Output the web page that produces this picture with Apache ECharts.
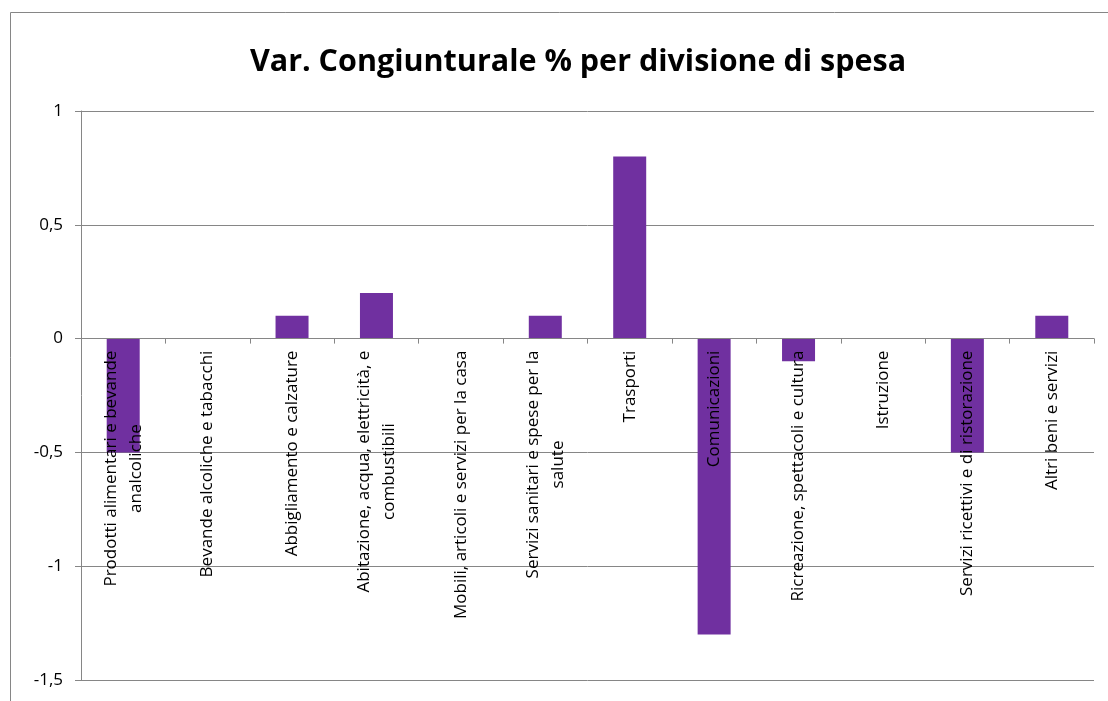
<!DOCTYPE html>
<html>
<head>
<meta charset="utf-8">
<script src="https://cdn.jsdelivr.net/npm/echarts@6/dist/echarts.min.js"></script>
<style>
  html, body { margin: 0; padding: 0; background: #fff; }
  #chart { width: 1108px; height: 701px; }
</style>
</head>
<body>
<div id="chart"></div>
<script>
// categorie di spesa (a capo dove il grafico originale va a capo)
const categories = [
  "Prodotti alimentari e bevande\nanalcoliche",
  "Bevande alcoliche e tabacchi",
  "Abbigliamento e calzature",
  "Abitazione, acqua, elettricità, e\ncombustibili",
  "Mobili, articoli e servizi per la casa",
  "Servizi sanitari e spese per la\nsalute",
  "Trasporti",
  "Comunicazioni",
  "Ricreazione, spettacoli e cultura",
  "Istruzione",
  "Servizi ricettivi e di ristorazione",
  "Altri beni e servizi",
];
// variazione congiunturale %
const values = [-0.5, 0, 0.1, 0.2, 0, 0.1, 0.8, -1.3, -0.1, 0, -0.5, 0.1];
// asse y
const yMin = -1.5;
const yMax = 1;
const yStep = 0.5;

(() => {
  configChart();
})();

function configChart() {
  const chart = echarts.init(document.getElementById("chart"));
  const font = "'Open Sans', sans-serif";
  const option = {
    animation: false,
    textStyle: { fontFamily: font },
    title: {
      text: "Var. Congiunturale % per divisione di spesa",
      left: 573,
      top: 42,
      textAlign: "center",
      textStyle: {
        fontFamily: font,
        fontSize: 30.5,
        fontWeight: "bold",
        color: "#000",
      },
    },
    graphic: [
      {
        type: "rect",
        shape: { x: 10.5, y: 12.5, width: 1110, height: 700 },
        style: { fill: "none", stroke: "#868686", lineWidth: 1 },
        silent: true,
      },
    ],
    grid: {
      left: 81,
      right: 14,
      top: 111,
      bottom: 21,
      outerBoundsMode: "none",
    },
    xAxis: {
      type: "category",
      data: categories,
      z: 3,
      offset: 0,
      axisLine: { onZero: false, lineStyle: { color: "#868686" } },
      axisTick: { show: true, length: 5, lineStyle: { color: "#868686" } },
      axisLabel: {
        rotate: 90,
        interval: 0,
        margin: 12,
        color: "#000",
        fontFamily: font,
        fontSize: 17,
        lineHeight: 25,
        formatter: (v) =>
          v
            .split("\n")
            .map((line) => "{c|" + line + "}")
            .join("\n"),
        rich: {
          c: {
            align: "center",
            color: "#000",
            fontFamily: font,
            fontSize: 17,
            lineHeight: 25,
          },
        },
      },
    },
    yAxis: {
      type: "value",
      min: yMin,
      max: yMax,
      interval: yStep,
      axisLine: { show: true, lineStyle: { color: "#868686" } },
      axisTick: { show: true, length: 6, lineStyle: { color: "#868686" } },
      splitLine: { lineStyle: { color: "#868686", width: 1 } },
      axisLabel: {
        color: "#000",
        fontFamily: font,
        fontSize: 17,
        margin: 18,
        formatter: (v) => String(Math.round(v * 10) / 10).replace(".", ","),
      },
    },
    series: [
      {
        type: "bar",
        data: values,
        barWidth: 33,
        itemStyle: { color: "#7030A0" },
      },
    ],
  };
  chart.setOption(option);

  // porta l'asse delle categorie sullo zero (etichette comprese)
  const zeroY = chart.convertToPixel({ yAxisIndex: 0 }, 0);
  const bottomY = chart.convertToPixel({ yAxisIndex: 0 }, yMin);
  chart.setOption({ xAxis: { offset: zeroY - bottomY } });
}
</script>
</body>
</html>
